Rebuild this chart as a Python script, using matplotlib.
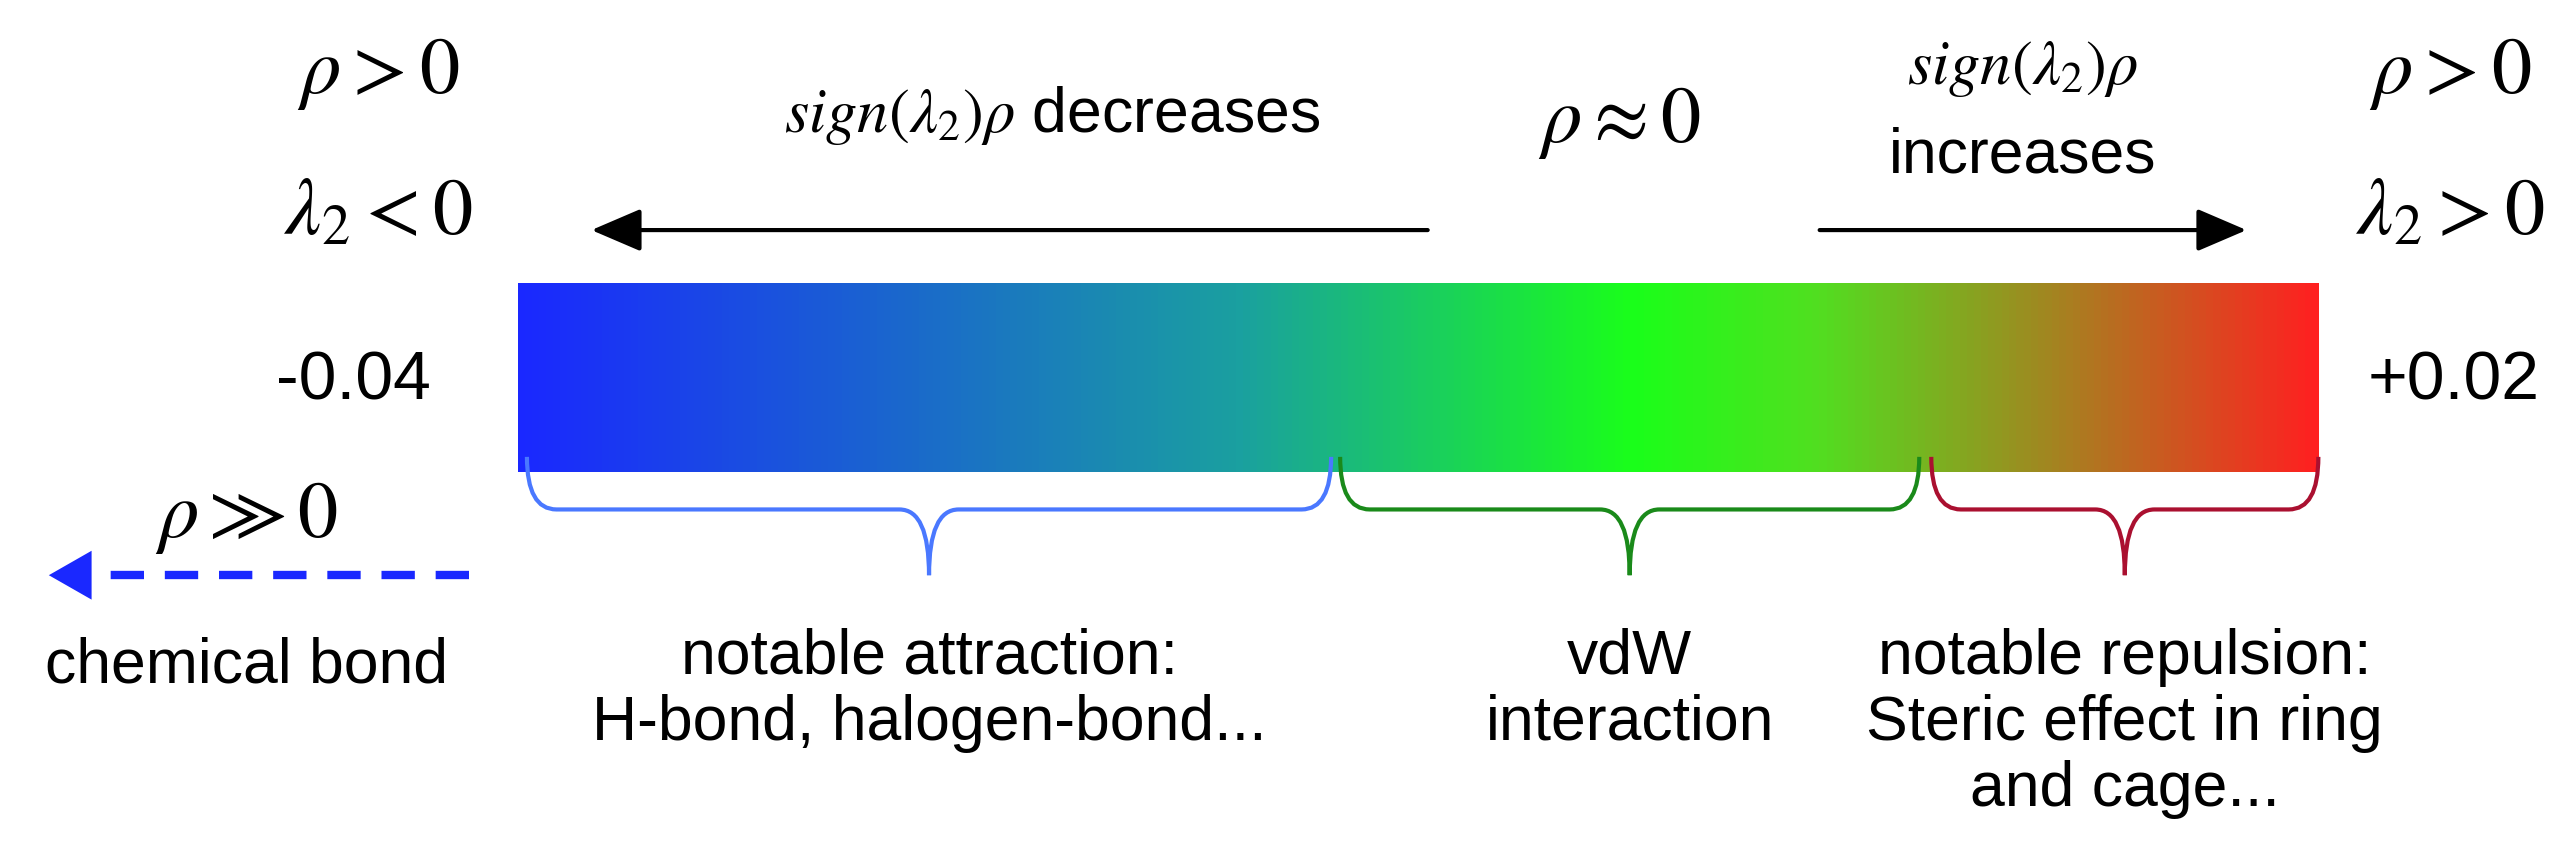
import numpy as np
import matplotlib.pyplot as plt
from matplotlib.colors import LinearSegmentedColormap
from matplotlib.path import Path
from matplotlib.patches import PathPatch, FancyArrowPatch

plt.rcParams['mathtext.fontset'] = 'stix'
plt.rcParams['font.family'] = ['Liberation Sans', 'DejaVu Sans']

# data
vmin, vmax = -0.04, 0.02
stops = [0.0, 0.4, 0.62, 0.72, 1.0]
stop_colors = ["#1a28ff", "#1aa0a0", "#1aff1a", "#50e020", "#ff2020"]
groups = ["notable attraction:\nH-bond, halogen-bond...",
          "vdW\ninteraction",
          "notable repulsion:\nSteric effect in ring\nand cage..."]
group_ranges = [(-0.0397, -0.0129), (-0.0126, 0.0067), (0.0071, 0.02)]
group_colors = ["#4a78ff", "#1a8a1a", "#aa1030"]

W, H = 1560, 516
fig = plt.figure(figsize=(25.65, 8.48), dpi=100)
ax = fig.add_axes([0, 0, 1, 1])
ax.set_xlim(0, W)
ax.set_ylim(H, 0)
ax.axis("off")

x0, x1 = 315, 1410
def xv(v):
    return x0 + (v - vmin) / (vmax - vmin) * (x1 - x0)

cmap = LinearSegmentedColormap.from_list("nci", list(zip(stops, stop_colors)))
grad = np.linspace(0, 1, 512)[None, :]
ax.imshow(grad, cmap=cmap, extent=[x0, x1, 287, 172], aspect="auto")

def brace(xa, xb, color):
    xc = (xa + xb) / 2
    r = 18
    verts = [(xa, 278), (xa, 310), (xa + r, 310),
             (xc - r, 310), (xc, 310), (xc, 350),
             (xc, 310), (xc + r, 310),
             (xb - r, 310), (xb, 310), (xb, 278)]
    codes = [Path.MOVETO, Path.CURVE3, Path.CURVE3,
             Path.LINETO, Path.CURVE3, Path.CURVE3,
             Path.CURVE3, Path.CURVE3,
             Path.LINETO, Path.CURVE3, Path.CURVE3]
    ax.add_patch(PathPatch(Path(verts, codes), fill=False, ec=color, lw=3))

fs = 45
for (a, b), c, t in zip(group_ranges, group_colors, groups):
    brace(xv(a), xv(b), c)
    ax.text((xv(a) + xv(b)) / 2, 382, t, ha="center", va="top", fontsize=fs,
            linespacing=1.15)

ms = 58
ax.text(230, 45, r"$\rho>0$", ha="center", va="center", fontsize=ms)
ax.text(230, 130, r"$\lambda_2<0$", ha="center", va="center", fontsize=ms)
ax.text(1490, 45, r"$\rho>0$", ha="center", va="center", fontsize=ms)
ax.text(1490, 130, r"$\lambda_2>0$", ha="center", va="center", fontsize=ms)
ax.text(985, 75, r"$\rho\approx0$", ha="center", va="center", fontsize=ms)
ax.text(150, 315, r"$\rho\gg0$", ha="center", va="center", fontsize=ms)

ax.text(640, 70, r"$sign(\lambda_2)\rho$ decreases", ha="center", va="center", fontsize=fs)
ax.text(1230, 42, r"$sign(\lambda_2)\rho$", ha="center", va="center", fontsize=fs)
ax.text(1230, 95, "increases", ha="center", va="center", fontsize=fs)
ax.text(215, 232, "-0.04", ha="center", va="center", fontsize=49)
ax.text(1492, 232, "+0.02", ha="center", va="center", fontsize=49)
ax.text(150, 405, "chemical bond", ha="center", va="center", fontsize=fs)

ax.add_patch(FancyArrowPatch((870, 140), (358, 140), arrowstyle="-|>,head_length=14,head_width=6",
                             mutation_scale=2.2, lw=3, color="black"))
ax.add_patch(FancyArrowPatch((1105, 140), (1368, 140), arrowstyle="-|>,head_length=14,head_width=6",
                             mutation_scale=2.2, lw=3, color="black"))
ax.plot([285, 58], [350, 350], ls=(0, (4, 2.5)), lw=6, color="#1a28ff")
ax.add_patch(FancyArrowPatch((70, 350), (28, 350), arrowstyle="-|>,head_length=14,head_width=8",
                             mutation_scale=2.2, lw=0, color="#1a28ff"))

fig.savefig("out.png", dpi=100)
